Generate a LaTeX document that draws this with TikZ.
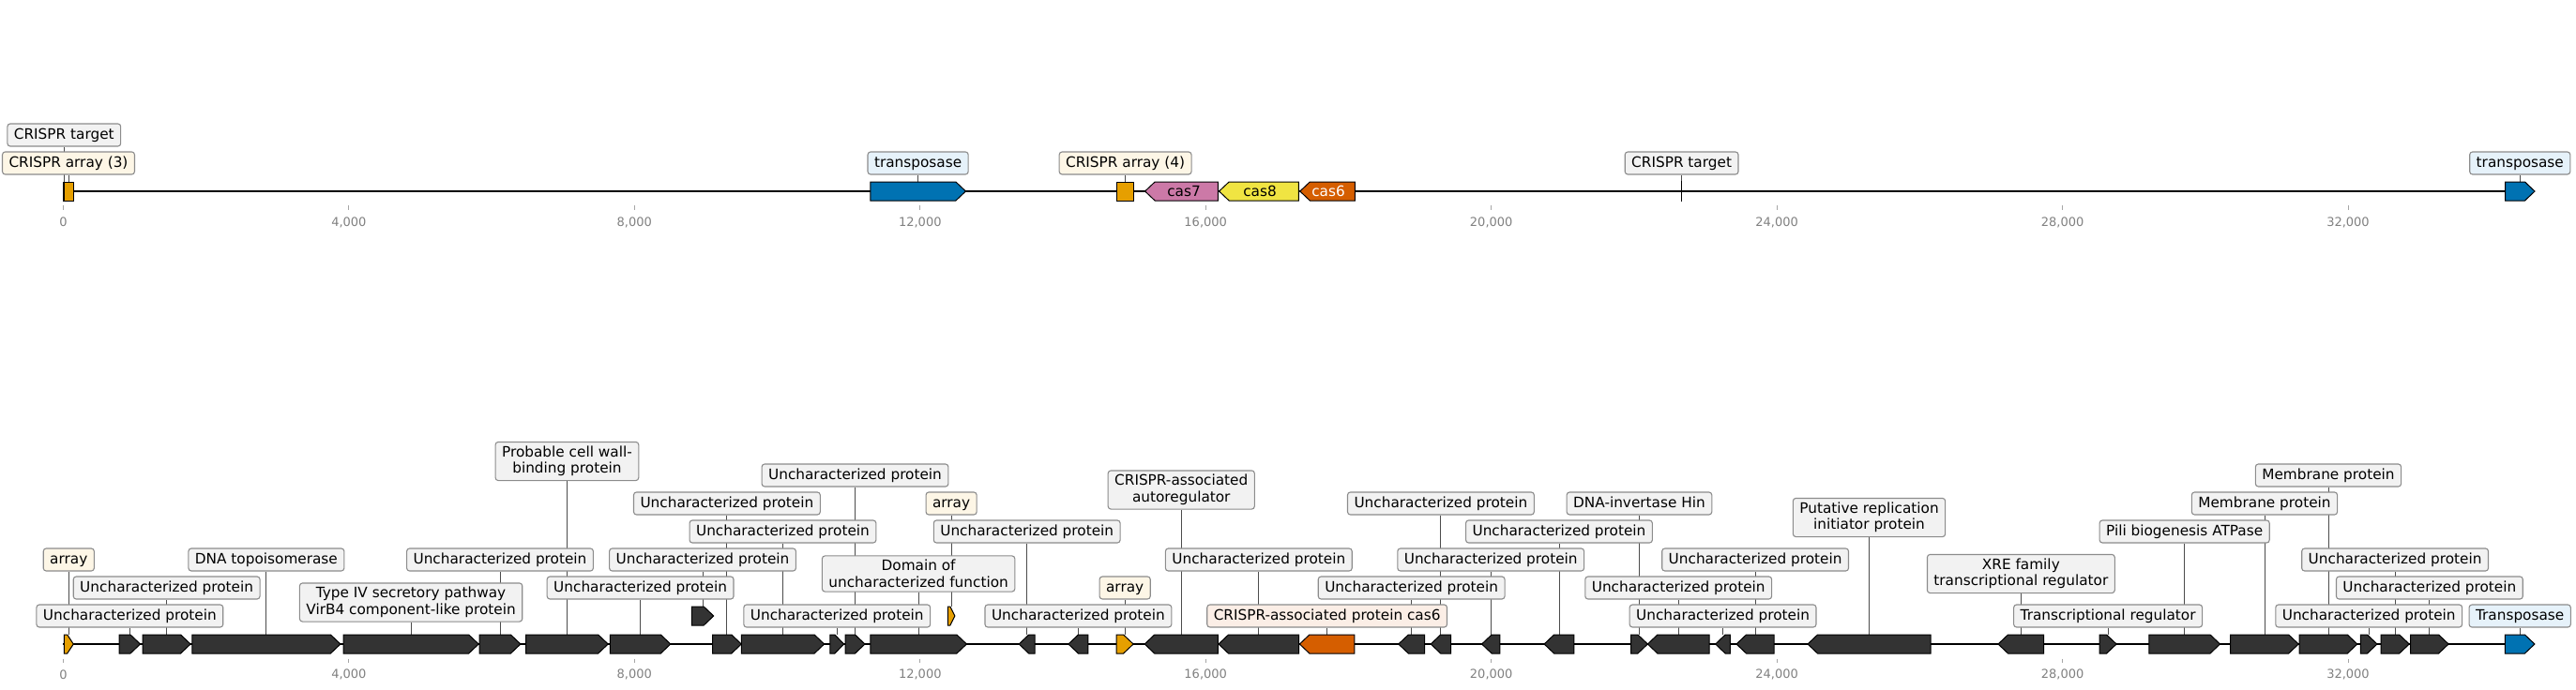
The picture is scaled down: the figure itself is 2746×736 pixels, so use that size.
\documentclass[tikz,border=0pt]{standalone}
\usepackage{fontspec}
\setmainfont{DejaVu Sans}
\definecolor{corange}{HTML}{E69F00}
\definecolor{cblue}{HTML}{0072B2}
\definecolor{cpink}{HTML}{CC79A7}
\definecolor{cyellow}{HTML}{F0E442}
\definecolor{cred}{HTML}{D55E00}
\definecolor{cdark}{HTML}{333333}
\definecolor{bgray}{HTML}{F2F2F2}
\definecolor{bcream}{HTML}{FDF6E6}
\definecolor{bblue}{HTML}{E6F2FA}
\definecolor{bpeach}{HTML}{FBEEE6}
\definecolor{bedge}{HTML}{8C8C8C}
\definecolor{tickgray}{HTML}{808080}
\pgfdeclarelayer{bg}
\pgfsetlayers{bg,main}
\newcommand\lblfont{\fontsize{15.3pt}{17.5pt}\selectfont}
\newcommand\tickfont{\fontsize{13pt}{15pt}\selectfont}
\tikzset{
 feat/.style={draw=black, line width=1pt, line join=miter},
 lbl/.style={draw=bedge, line width=1.1pt, rounded corners=3pt, fill=bgray, inner xsep=7pt, inner ysep=4.4pt, text height=11.6pt, text depth=3.6pt, font=\lblfont},
 lbltwo/.style={draw=bedge, line width=1.1pt, rounded corners=3pt, fill=bgray, inner xsep=7pt, inner ysep=4.4pt, align=center, font=\lblfont},
 conn/.style={draw=black!70, line width=0.9pt},
 track/.style={draw=black, line width=2pt},
 tickm/.style={draw=tickgray!70, line width=0.9pt},
 ticklbl/.style={text=tickgray, font=\tickfont, inner sep=0pt},
}
\newcommand\fR[5]{%
 \pgfmathsetmacro\hlen{min(10.5,0.66*(#3-#2))}%
 \filldraw[feat,fill=#5] (#2,#4-10) -- ({#3-\hlen},#4-10) -- (#3,#4) -- ({#3-\hlen},#4+10) -- (#2,#4+10) -- cycle;
 \coordinate (#1) at ({(#2+#3)/2},#4-10);}
\newcommand\fL[5]{%
 \pgfmathsetmacro\hlen{min(10.5,0.66*(#3-#2))}%
 \filldraw[feat,fill=#5] (#3,#4-10) -- ({#2+\hlen},#4-10) -- (#2,#4) -- ({#2+\hlen},#4+10) -- (#3,#4+10) -- cycle;
 \coordinate (#1) at ({(#2+#3)/2},#4-10);}
\begin{document}
\begin{tikzpicture}[x=1pt,y=-1pt]
\useasboundingbox (0,0) rectangle (2746,736);
% levels
\coordinate (lvT1) at (0,174);
\coordinate (lvT2) at (0,144);
\coordinate (lv1) at (0,657);
\coordinate (lv2) at (0,627);
\coordinate (lv3) at (0,597);
\coordinate (lv4) at (0,567);
\coordinate (lv5) at (0,537);
\coordinate (lv6) at (0,507);
\coordinate (lvA) at (0,642.5);
\coordinate (lvB) at (0,492);
\coordinate (lvC) at (0,612);
\coordinate (lvD) at (0,522.5);
\coordinate (lvE) at (0,552);

% ---------- top track ----------
\coordinate (topL) at (67.4,204);
\coordinate (topR) at (2702,204);
\filldraw[feat,fill=corange] (67.7,194) rectangle (78.3,214);
\coordinate (t1) at (73,194);
\draw[feat,line width=1.2pt] (68.3,194) -- (68.3,214);
\coordinate (t0) at (68.3,194);
\fR{t2}{927.8}{1029.4}{204}{cblue}
\filldraw[feat,fill=corange] (1190.7,194) rectangle (1208.6,214);
\coordinate (t3) at (1199.6,194);
\fL{t4}{1220.6}{1298.3}{204}{cpink}
\fL{t5}{1299.6}{1384.4}{204}{cyellow}
\fL{t6}{1385.8}{1444.3}{204}{cred}
\node[font=\lblfont, inner sep=0pt] (t4txt) at (1262,204) {cas7};
\node[font=\lblfont, inner sep=0pt] (t5txt) at (1343,204) {cas8};
\node[font=\lblfont, inner sep=0pt, text=white] (t6txt) at (1416,204) {cas6};
\draw[feat,line width=1.4pt] (1792.6,193) -- (1792.6,215);
\coordinate (t7) at (1792.6,193);
\fR{t8}{2670.5}{2702}{204}{cblue}

\node[lbl,fill=bgray] (t0-l) at (t0 |- lvT2) {CRISPR target};
\node[lbl,fill=bcream] (t1-l) at (t1 |- lvT1) {CRISPR array (3)};
\node[lbl,fill=bblue] (t2-l) at (t2 |- lvT1) {transposase};
\node[lbl,fill=bcream] (t3-l) at (t3 |- lvT1) {CRISPR array (4)};
\node[lbl,fill=bgray] (t7-l) at (t7 |- lvT1) {CRISPR target};
\node[lbl,fill=bblue] (t8-l) at (t8 |- lvT1) {transposase};

\foreach \x/\t in {67.4/0, 371.9/{4,000}, 676.3/{8,000}, 980.8/{12,000}, 1285.2/{16,000}, 1589.7/{20,000}, 1894.1/{24,000}, 2198.6/{28,000}, 2503.0/{32,000}}{
  \draw[tickm] (\x,219) -- (\x,224);
  \node[ticklbl] at (\x,237) {\t};
  \draw[tickm] (\x,702.7) -- (\x,707.3);
  \node[ticklbl] at (\x,719.3) {\t};
}

% ---------- bottom track ----------
\coordinate (botL) at (67.4,687);
\coordinate (botR) at (2702,687);
\fR{g1}{68.3}{78.3}{687}{corange}
\fR{g2}{127.2}{149.5}{687}{cdark}
\fR{g3}{152.2}{203.1}{687}{cdark}
\fR{g4}{204.9}{362.9}{687}{cdark}
\fR{g5}{366}{510.2}{687}{cdark}
\fR{g6}{511.1}{554.9}{687}{cdark}
\fR{g7}{560.7}{648.2}{687}{cdark}
\fR{g8}{650.4}{714.8}{687}{cdark}
\fR{g9}{737.3}{760.7}{657}{cdark}
\fR{g10}{759.5}{790.3}{687}{cdark}
\fR{g11}{790.3}{878.6}{687}{cdark}
\fR{g12}{884.9}{899.6}{687}{cdark}
\fR{g13}{901}{922}{687}{cdark}
\fR{g14}{927.8}{1030.4}{687}{cdark}
\fR{g15}{1010.3}{1017.9}{657}{corange}
\fL{g16}{1086.2}{1103.2}{687}{cdark}
\fL{g17}{1138.9}{1159.9}{687}{cdark}
\fR{g18}{1190.2}{1208.1}{687}{corange}
\fL{g19}{1220.2}{1298.3}{687}{cdark}
\fL{g20}{1299}{1384.6}{687}{cdark}
\fL{g21}{1385.4}{1443.9}{687}{cred}
\fL{g22}{1490.8}{1518.5}{687}{cdark}
\fL{g23}{1525.2}{1546.6}{687}{cdark}
\fL{g24}{1579.6}{1598.8}{687}{cdark}
\fL{g25}{1646.1}{1677.8}{687}{cdark}
\fR{g26}{1738.5}{1756.4}{687}{cdark}
\fL{g27}{1756.4}{1822}{687}{cdark}
\fL{g28}{1828.7}{1844.4}{687}{cdark}
\fL{g29}{1851}{1891.2}{687}{cdark}
\fL{g30}{1927}{2058}{687}{cdark}
\fL{g31}{2130}{2178.7}{687}{cdark}
\fR{g32}{2238.1}{2256.1}{687}{cdark}
\fR{g33}{2290.8}{2366.5}{687}{cdark}
\fR{g34}{2377.7}{2450.2}{687}{cdark}
\fR{g35}{2451.1}{2512.8}{687}{cdark}
\fR{g36}{2516.4}{2534}{687}{cdark}
\fR{g37}{2538}{2568.2}{687}{cdark}
\fR{g38}{2569.6}{2610.1}{687}{cdark}
\fR{g39}{2670.4}{2701.9}{687}{cblue}

\node[lbl,fill=bcream] (g1-l) at (g1 |- lv3) {array};
\node[lbl] (g2-l) at (g2 |- lv1) {Uncharacterized protein};
\node[lbl] (g3-l) at (g3 |- lv2) {Uncharacterized protein};
\node[lbl] (g4-l) at (g4 |- lv3) {DNA topoisomerase};
\node[lbltwo] (g5-l) at (g5 |- lvA) {Type IV secretory pathway\\VirB4 component-like protein};
\node[lbl] (g6-l) at (g6 |- lv3) {Uncharacterized protein};
\node[lbltwo] (g7-l) at (g7 |- lvB) {Probable cell wall-\\binding protein};
\node[lbl] (g8-l) at (g8 |- lv2) {Uncharacterized protein};
\node[lbl] (g9-l) at (g9 |- lv3) {Uncharacterized protein};
\node[lbl] (g10-l) at (g10 |- lv5) {Uncharacterized protein};
\node[lbl] (g11-l) at (g11 |- lv4) {Uncharacterized protein};
\node[lbl] (g12-l) at (g12 |- lv1) {Uncharacterized protein};
\node[lbl] (g13-l) at (g13 |- lv6) {Uncharacterized protein};
\node[lbltwo] (g14-l) at (g14 |- lvC) {Domain of\\uncharacterized function};
\node[lbl,fill=bcream] (g15-l) at (g15 |- lv5) {array};
\node[lbl] (g16-l) at (g16 |- lv4) {Uncharacterized protein};
\node[lbl] (g17-l) at (g17 |- lv1) {Uncharacterized protein};
\node[lbl,fill=bcream] (g18-l) at (g18 |- lv2) {array};
\node[lbltwo] (g19-l) at (g19 |- lvD) {CRISPR-associated\\autoregulator};
\node[lbl] (g20-l) at (g20 |- lv3) {Uncharacterized protein};
\node[lbl,fill=bpeach] (g21-l) at (g21 |- lv1) {CRISPR-associated protein cas6};
\node[lbl] (g22-l) at (g22 |- lv2) {Uncharacterized protein};
\node[lbl] (g23-l) at (g23 |- lv5) {Uncharacterized protein};
\node[lbl] (g24-l) at (g24 |- lv3) {Uncharacterized protein};
\node[lbl] (g25-l) at (g25 |- lv4) {Uncharacterized protein};
\node[lbl] (g26-l) at (g26 |- lv5) {DNA-invertase Hin};
\node[lbl] (g27-l) at (g27 |- lv2) {Uncharacterized protein};
\node[lbl] (g28-l) at (g28 |- lv1) {Uncharacterized protein};
\node[lbl] (g29-l) at (g29 |- lv3) {Uncharacterized protein};
\node[lbltwo] (g30-l) at (g30 |- lvE) {Putative replication\\initiator protein};
\node[lbltwo] (g31-l) at (g31 |- lvC) {XRE family\\transcriptional regulator};
\node[lbl] (g32-l) at (g32 |- lv1) {Transcriptional regulator};
\node[lbl] (g33-l) at (g33 |- lv4) {Pili biogenesis ATPase};
\node[lbl] (g34-l) at (g34 |- lv5) {Membrane protein};
\node[lbl] (g35-l) at (g35 |- lv6) {Membrane protein};
\node[lbl] (g36-l) at (g36 |- lv1) {Uncharacterized protein};
\node[lbl] (g37-l) at (g37 |- lv3) {Uncharacterized protein};
\node[lbl] (g38-l) at (g38 |- lv2) {Uncharacterized protein};
\node[lbl,fill=bblue] (g39-l) at (g39 |- lv1) {Transposase};

\begin{pgfonlayer}{bg}
\draw[track] (topL) -- (topR);
\draw[track] (botL) -- (botR);
\foreach \n in {t0,t1,t2,t3,t7,t8}{\draw[conn] (\n) -- (\n -| \n-l.south) -- (\n-l.south);}
\foreach \n in {g1,g2,g3,g4,g5,g6,g7,g8,g9,g10,g11,g12,g13,g14,g15,g16,g17,g18,g19,g20,g21,g22,g23,g24,g25,g26,g27,g28,g29,g30,g31,g32,g33,g34,g35,g36,g37,g38,g39}{\draw[conn] (\n) -- (\n-l.south);}
\end{pgfonlayer}
\end{tikzpicture}
\end{document}
